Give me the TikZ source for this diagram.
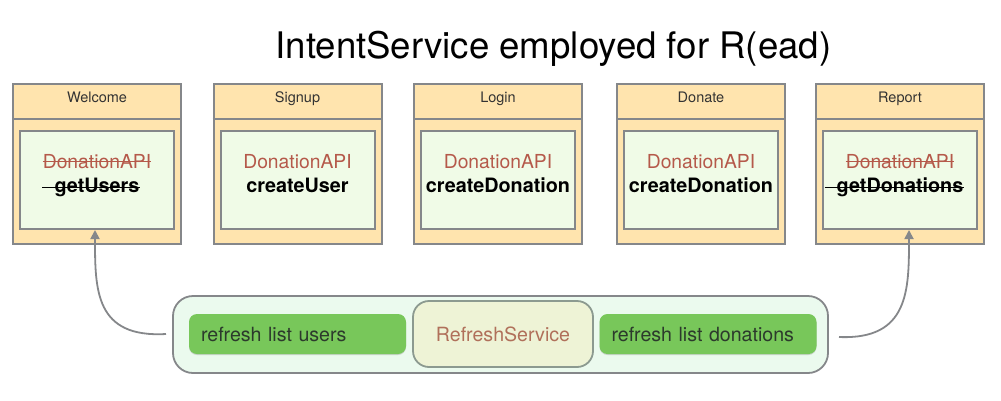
\documentclass[tikz,border=0pt]{standalone}
\usepackage{fontspec}
\setmainfont{TeX Gyre Heros}
\usetikzlibrary{arrows.meta}
\usetikzlibrary{shadows}

\definecolor{framegray}{HTML}{85878A}
\definecolor{screenfill}{HTML}{FFE4AE}
\definecolor{apifill}{HTML}{F0FBE7}
\definecolor{apired}{HTML}{B5594A}
\definecolor{svcfill}{HTML}{EBFAEE}
\definecolor{listgreen}{HTML}{78C75A}
\definecolor{listtext}{HTML}{2C3A2C}
\definecolor{rsfill}{HTML}{EEF3D6}
\definecolor{rsframe}{HTML}{8C9A90}
\definecolor{rstext}{HTML}{B0705A}

\tikzset{
  screen/.style={draw=framegray, line width=2pt, fill=screenfill, minimum width=168pt, minimum height=160pt, inner sep=0pt},
  apibox/.style={draw=framegray, line width=2pt, fill=apifill, minimum width=154pt, minimum height=98pt, inner sep=0pt},
  headtxt/.style={inner sep=0pt, anchor=base, text=black!80, font=\fontsize{14.5pt}{17pt}\selectfont},
  apitxt/.style={inner sep=0pt, anchor=base, text=apired, font=\fontsize{19.3pt}{22pt}\selectfont},
  methtxt/.style={inner sep=0pt, anchor=base, font=\fontsize{19.8pt}{22pt}\selectfont\bfseries},
  container/.style={draw=framegray, line width=1.8pt, fill=svcfill, rounded corners=20pt, minimum width=655pt, minimum height=77pt},
  listbox/.style={fill=listgreen, rounded corners=8pt, text=listtext, inner xsep=12pt, inner ysep=0pt,
    text width=193pt, align=left, minimum height=40pt, font=\fontsize{19.6pt}{22pt}\selectfont,
    drop shadow={shadow xshift=0pt, shadow yshift=-1pt, opacity=.25, fill=black!60}},
  servicebox/.style={draw=rsframe, line width=1.8pt, fill=rsfill, rounded corners=16pt, text=rstext,
    minimum width=180pt, minimum height=66pt, font=\fontsize{19.6pt}{22pt}\selectfont},
  conn/.style={draw=framegray, line width=1.8pt, -{Triangle[width=9pt,length=9pt]}}
}

\begin{document}
\begin{tikzpicture}[x=1pt,y=-1pt]
  \useasboundingbox (0,0) rectangle (1001,400);

  % Titel
  \node[anchor=base, inner sep=0pt, font=\fontsize{36.6pt}{40pt}\selectfont] (title) at (553.5,58) {IntentService employed for R(ead)};

  % Bildschirme
  \foreach \cx/\nm/\ttl/\meth in {97/welcome/Welcome/getUsers, 297.5/signup/Signup/createUser, 498/login/Login/createDonation, 701/donate/Donate/createDonation, 900/report/Report/getDonations}{
    \node[screen] (\nm) at (\cx,164) {};
    \draw[framegray, line width=2pt] ([yshift=-36pt]\nm.north west) -- ([yshift=-36pt]\nm.north east);
    \node[headtxt] (\nm-head) at (\cx,102) {\ttl};
    \node[apibox] (\nm-api) at (\cx,180) {};
    \node[apitxt] (\nm-dapi) at (\cx,168) {DonationAPI};
    \node[methtxt] (\nm-meth) at (\cx,192) {\meth};
  }

  % durchgestrichen
  \draw[apired, line width=1pt] ([yshift=6.5pt]welcome-dapi.base west) -- ([yshift=6.5pt]welcome-dapi.base east);
  \draw[line width=1pt] ([xshift=-12pt,yshift=5pt]welcome-meth.base west) -- ([yshift=5pt]welcome-meth.base east);
  \draw[apired, line width=1pt] ([yshift=6.5pt]report-dapi.base west) -- ([yshift=6.5pt]report-dapi.base east);
  \draw[line width=1pt] ([xshift=-12pt,yshift=5pt]report-meth.base west) -- ([yshift=5pt]report-meth.base east);

  % RefreshService
  \node[container] (svc) at (500.5,334.5) {};
  \node[listbox] (users) at (297.5,334) {refresh list users};
  \node[servicebox] (rsvc) at (503,334) {RefreshService};
  \node[listbox] (dons) at (708,334) {refresh list donations};

  % Pfeile
  \coordinate (uout) at (166,334);
  \coordinate (dout) at (839,337);
  \draw[conn] (uout) .. controls (95,338) and (95,290) .. ([xshift=-2pt]welcome-api.south);
  \draw[conn] (dout) .. controls (909,340) and (909,290) .. ([xshift=9pt]report-api.south);
\end{tikzpicture}
\end{document}
